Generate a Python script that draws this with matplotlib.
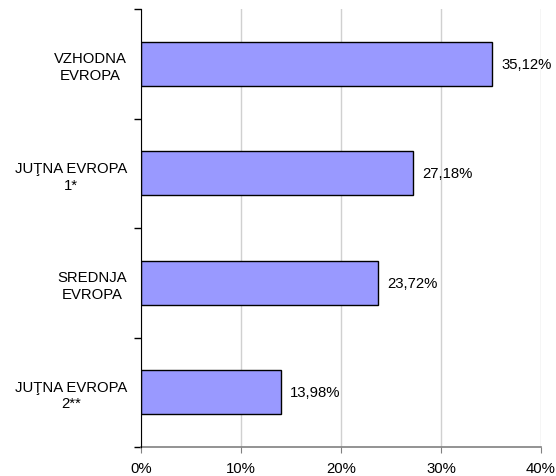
import matplotlib
matplotlib.use("Agg")
import matplotlib.pyplot as plt
import numpy as np
from matplotlib.ticker import FixedLocator

categories = ["VZHODNA\nEVROPA", "JUŢNA EVROPA\n1*", "SREDNJA\nEVROPA", "JUŢNA EVROPA\n2**"]
values = [35.12, 27.18, 23.72, 13.98]
value_labels = ["35,12%", "27,18%", "23,72%", "13,98%"]
xtick_vals = [0, 10, 20, 30, 40]
xtick_labels = ["0%", "10%", "20%", "30%", "40%"]

plt.rcParams['font.family'] = ['Liberation Sans', 'DejaVu Sans']
FS = 10.7
fig = plt.figure(figsize=(5.56, 4.77), dpi=100)
ax = fig.add_axes([141/556, 29/477, 400/556, 438/477])

y = np.arange(len(categories))
ax.barh(y, values, height=0.4, color="#9999FF", edgecolor="black", linewidth=1.0, zorder=3)
for yi, v, lab in zip(y, values, value_labels):
    ax.text(v + 0.9, yi, lab, va="center", ha="left", fontsize=FS)

ax.set_xlim(0, 40)
ax.set_ylim(len(categories) - 0.5, -0.5)
ax.set_xticks(xtick_vals)
ax.set_xticklabels(xtick_labels, fontsize=FS)
ax.xaxis.grid(True, color="#d0d0d0", linewidth=1.0, zorder=0)

ax.yaxis.set_major_locator(FixedLocator(np.arange(-0.5, len(categories), 1.0)))
ax.yaxis.set_major_formatter(plt.NullFormatter())
ax.yaxis.set_minor_locator(FixedLocator(y))
ax.set_yticklabels(categories, minor=True, fontsize=FS, ha="right", multialignment="center", linespacing=1.25)
ax.tick_params(axis="y", which="minor", length=0, pad=10)
ax.tick_params(axis="y", which="major", length=5, width=1, color="black", direction="out")
ax.tick_params(axis="x", length=4, color="#808080", pad=6)

for s in ["top", "right"]:
    ax.spines[s].set_visible(False)
ax.spines["left"].set_color("black")
ax.spines["left"].set_zorder(4)
ax.spines["bottom"].set_color("#808080")
ax.spines["bottom"].set_linewidth(1.2)

fig.savefig("out.png", dpi=100)
